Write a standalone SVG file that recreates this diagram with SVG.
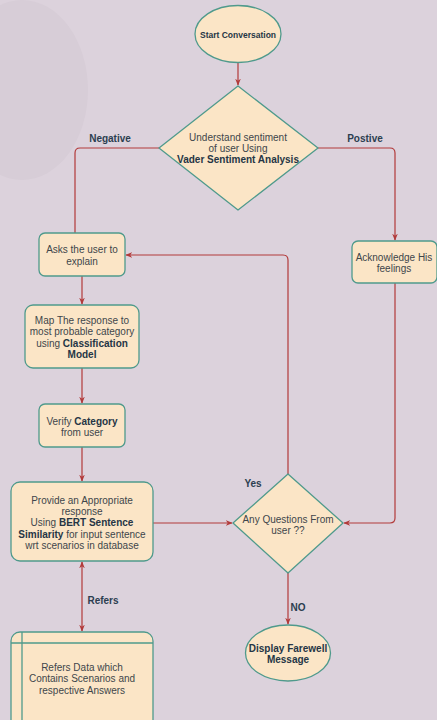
<svg xmlns="http://www.w3.org/2000/svg" width="437" height="720" viewBox="0 0 437 720">
<defs>
<marker id="ah" viewBox="0 0 10 10" refX="9" refY="5" markerWidth="7" markerHeight="7" orient="auto-start-reverse" markerUnits="userSpaceOnUse">
<path d="M0,1 L10,5 L0,9 L3,5 Z" fill="#b23a3a"/>
</marker>
</defs>
<style>
.n{fill:#fbe5c6;stroke:#4f9a8c;stroke-width:1.3}
.c{fill:none;stroke:#b23a3a;stroke-width:1.2}
text{font-family:"Liberation Sans",Arial,sans-serif;font-size:10px;fill:#40454b;text-anchor:middle}
.b{font-weight:bold;fill:#253545}
.lb{font-weight:bold;fill:#2c3e50;font-size:10px}
</style>
<rect width="437" height="720" fill="#dcd2dc"/>
<ellipse cx="22" cy="90" rx="66" ry="90" fill="#d7cdd7"/>
<g id="connectors">
<path class="c" d="M238,62 V85" marker-end="url(#ah)"/>
<path class="c" d="M159,148 H80 Q75,148 75,153 V233"/>
<path class="c" d="M318,148 H390 Q395,148 395,153 V240" marker-end="url(#ah)"/>
<path class="c" d="M82,276 V304" marker-end="url(#ah)"/>
<path class="c" d="M82,368 V403" marker-end="url(#ah)"/>
<path class="c" d="M82,447 V481" marker-end="url(#ah)"/>
<path class="c" d="M153,523 H232" marker-end="url(#ah)"/>
<path class="c" d="M288,474 V260 Q288,255 283,255 H126" marker-end="url(#ah)"/>
<path class="c" d="M395,283 V518 Q395,523 390,523 H344" marker-end="url(#ah)"/>
<path class="c" d="M288,573 V624" marker-end="url(#ah)"/>
<path class="c" d="M82,562 V631" marker-start="url(#ah)" marker-end="url(#ah)"/>
<text class="lb" x="110" y="142">Negative</text>
<text class="lb" x="365" y="142">Postive</text>
<text class="lb" x="253" y="487">Yes</text>
<text class="lb" x="298" y="611">NO</text>
<text class="lb" x="103" y="604">Refers</text>
</g>
<g id="start">
<ellipse class="n" cx="238" cy="34" rx="43" ry="28.5"/>
<text class="b" x="238" y="37.5" style="font-size:8.5px">Start Conversation</text>
</g>
<g id="sentiment">
<path class="n" d="M238,86 L318,148 L238,210 L159,148 Z" stroke-linejoin="round"/>
<text x="238" y="141">Understand sentiment</text>
<text x="238" y="152">of user Using</text>
<text class="b" x="238" y="163">Vader Sentiment Analysis</text>
</g>
<g id="asks">
<rect class="n" x="39" y="233" width="86" height="43" rx="6"/>
<text x="82" y="253">Asks the user to</text>
<text x="82" y="264.5">explain</text>
</g>
<g id="acknowledge">
<rect class="n" x="352" y="241" width="85" height="42" rx="6"/>
<text x="394" y="260.5">Acknowledge His</text>
<text x="394" y="272">feelings</text>
</g>
<g id="map">
<rect class="n" x="25" y="305" width="114" height="63" rx="8"/>
<text x="82" y="323.5">Map The response to</text>
<text x="82" y="335">most probable category</text>
<text x="82" y="346.5">using <tspan class="b">Classification</tspan></text>
<text class="b" x="82" y="358">Model</text>
</g>
<g id="verify">
<rect class="n" x="39" y="404" width="86" height="43" rx="6"/>
<text x="82" y="424.5">Verify <tspan class="b">Category</tspan></text>
<text x="82" y="436">from user</text>
</g>
<g id="provide">
<rect class="n" x="11" y="482" width="142" height="79" rx="9"/>
<text x="82" y="503.5">Provide an Appropriate</text>
<text x="82" y="515">response</text>
<text x="82" y="526">Using <tspan class="b">BERT Sentence</tspan></text>
<text x="82" y="537.5"><tspan class="b">Similarity</tspan> for input sentence</text>
<text x="82" y="549">wrt scenarios in database</text>
</g>
<g id="questions">
<path class="n" d="M288,474 L343,523 L288,573 L233,523 Z" stroke-linejoin="round"/>
<text x="288" y="522.5">Any Questions From</text>
<text x="288" y="534">user ??</text>
</g>
<g id="farewell">
<ellipse class="n" cx="288" cy="653" rx="42.5" ry="28"/>
<text class="b" x="288" y="651.5">Display Farewell</text>
<text class="b" x="288" y="663">Message</text>
</g>
<g id="database">
<rect class="n" x="11" y="632" width="142" height="110" rx="9"/>
<path d="M11,643 H153 M22,632 V720" fill="none" stroke="#4f9a8c" stroke-width="1.3"/>
<text x="82" y="670.5">Refers Data which</text>
<text x="82" y="682">Contains Scenarios and</text>
<text x="82" y="693.5">respective Answers</text>
</g>
</svg>
